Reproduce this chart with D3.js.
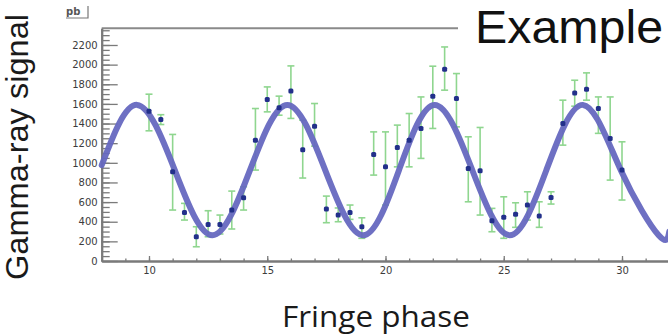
<!DOCTYPE html>
<html>
<head>
<meta charset="utf-8">
<script src="https://cdn.jsdelivr.net/npm/d3@7/dist/d3.min.js"></script>
<style>
  html, body { margin: 0; padding: 0; background: #fff; }
  svg { display: block; }
</style>
</head>
<body>
<script>
// ---- data ----
const phase   = [10.0,10.5,11.0,11.5,12.0,12.5,13.0,13.5,14.0,14.5,15.0,15.5,16.0,16.5,17.0,17.5,18.0,18.5,19.0,19.5,20.0,20.5,21.0,21.5,22.0,22.5,23.0,23.5,24.0,24.5,25.0,25.5,26.0,26.5,27.0,27.5,28.0,28.5,29.0,29.5,30.0];
const signal  = [1524,1441,909,495,247,373,373,519,644,1231,1645,1560,1731,1132,1373,529,468,495,349,1085,959,1157,1231,1350,1679,1953,1655,943,919,410,445,475,570,458,648,1401,1712,1750,1553,1248,926];
const errLow  = [1326,1390,519,417,145,247,275,326,519,926,1519,1485,1452,845,1170,390,400,424,231,875,570,959,959,1045,1350,1740,1366,603,468,298,231,343,417,343,580,1180,1577,1638,1300,824,621];
const errHigh = [1699,1490,1289,587,349,512,468,712,756,1553,1773,1679,1987,1434,1604,661,540,570,440,1315,1315,1384,1502,1671,1984,2180,1909,1265,1360,536,654,593,705,603,705,1638,1841,1916,1671,1671,1214];
// fitted fringe curve, knots (peaks, troughs, mid-levels)
const fitX = [8.0,9.5,11.09,12.68,14.27,15.85,17.45,19.05,20.57,22.08,23.67,25.25,26.8,28.35,29.95,31.55,32.0];
const fitY = [975,1590,925,262,925,1590,925,262,925,1590,925,262,925,1590,925,262,300];
const xDomain = [8, 32];
const yDomain = [0, 2370];
const xMajor = [10,15,20,25,30];
const xMinor = d3.range(8, 33, 1);
const yMajor = d3.range(0, 2201, 200);
const yMinor = d3.range(0, 2371, 50);

const W = 668, H = 335;
const svg = d3.select("body").append("svg").attr("width", W).attr("height", H);

const x = d3.scaleLinear().domain(xDomain).range([101.7, 669.3]);
const y = d3.scaleLinear().domain(yDomain).range([261, 28.3]);

const axisColor = "#7a7a7a";
const labelFont = "'DejaVu Sans', sans-serif";

// top frame line
svg.append("line")
  .attr("x1", x(xDomain[0])).attr("x2", 458)
  .attr("y1", y(yDomain[1])).attr("y2", y(yDomain[1]))
  .attr("stroke", "#8a8a8a").attr("stroke-width", 2);

// Y axis minor ticks
const gyMinor = svg.append("g").attr("transform", `translate(${x(xDomain[0])},0)`)
  .call(d3.axisLeft(y).tickValues(yMinor).tickSize(-8).tickSizeOuter(0).tickFormat(""));
// Y axis major ticks + labels
const gy = svg.append("g").attr("transform", `translate(${x(xDomain[0])},0)`)
  .call(d3.axisLeft(y).tickValues(yMajor).tickSize(-16).tickSizeOuter(0).tickPadding(4).tickFormat(d3.format("d")));

// X axis minor / major
const gxMinor = svg.append("g").attr("transform", `translate(0,${y(0)})`)
  .call(d3.axisBottom(x).tickValues(xMinor).tickSize(-2.5).tickSizeOuter(0).tickFormat(""));
const gx = svg.append("g").attr("transform", `translate(0,${y(0)})`)
  .call(d3.axisBottom(x).tickValues(xMajor).tickSize(-5).tickSizeOuter(0).tickPadding(6).tickFormat(d3.format("d")));

[gyMinor, gy, gxMinor, gx].forEach(g => {
  g.selectAll(".domain").attr("stroke", axisColor).attr("stroke-width", 2);
  g.selectAll(".tick line").attr("stroke", axisColor).attr("stroke-width", 1.3);
  g.selectAll("text").attr("font-family", labelFont).attr("font-size", 10).attr("fill", "#3c3c3c");
});

// error bars
const bars = svg.append("g");
phase.forEach((p, i) => {
  const cx = x(p);
  bars.append("line").attr("x1", cx).attr("x2", cx).attr("y1", y(errLow[i])).attr("y2", y(errHigh[i]))
    .attr("stroke", "#8fd68f").attr("stroke-width", 1.6);
  [errLow[i], errHigh[i]].forEach(v => {
    bars.append("line").attr("x1", cx - 3.5).attr("x2", cx + 3.5).attr("y1", y(v)).attr("y2", y(v))
      .attr("stroke", "#8fd68f").attr("stroke-width", 1.6);
  });
});

// fit curve
const line = d3.line().x((d, i) => x(fitX[i])).y((d, i) => y(fitY[i])).curve(d3.curveNatural);
svg.append("path").datum(fitX).attr("d", line)
  .attr("fill", "none").attr("stroke", "#6668c0").attr("stroke-width", 6)
  .attr("stroke-linecap", "round").attr("opacity", 0.95);

// markers
svg.append("g").selectAll("rect").data(phase).join("rect")
  .attr("x", d => x(d) - 2.5).attr("y", (d, i) => y(signal[i]) - 2.5)
  .attr("width", 5).attr("height", 5).attr("rx", 1.5)
  .attr("fill", "#22308a");

// small icon top-left
svg.append("text").attr("x", 66).attr("y", 15).text("pb")
  .attr("font-family", labelFont).attr("font-size", 10).attr("font-weight", "bold").attr("fill", "#555");
svg.append("path").attr("d", "M66,18 L88,18 L88,6").attr("fill", "none").attr("stroke", "#777").attr("stroke-width", 1.2);

// title "Example"
svg.append("text").attr("x", 475).attr("y", 43).text("Example")
  .attr("font-family", "'Liberation Sans', Arial, sans-serif").attr("font-size", 47)
  .attr("textLength", 188).attr("lengthAdjust", "spacingAndGlyphs").attr("fill", "#111");

// axis titles
svg.append("text").attr("transform", "translate(28,147) rotate(-90)")
  .attr("text-anchor", "middle").text("Gamma-ray signal")
  .attr("font-family", "'Liberation Sans', Arial, sans-serif").attr("font-size", 31)
  .attr("textLength", 266).attr("lengthAdjust", "spacingAndGlyphs").attr("fill", "#1a1a1a");

svg.append("text").attr("x", 376).attr("y", 327)
  .attr("text-anchor", "middle").text("Fringe phase")
  .attr("font-family", "'Open Sans', 'Noto Sans', sans-serif").attr("font-size", 29)
  .attr("textLength", 188).attr("lengthAdjust", "spacingAndGlyphs").attr("fill", "#1a1a1a");
</script>
</body>
</html>
